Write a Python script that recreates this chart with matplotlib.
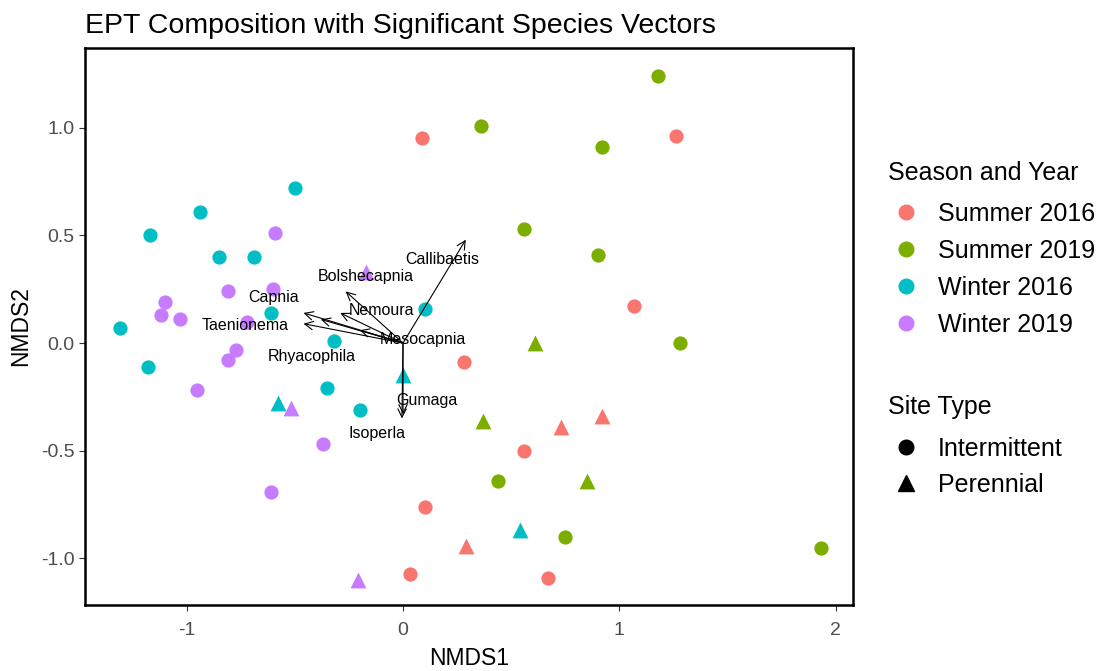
import matplotlib
matplotlib.use('Agg')
import matplotlib.pyplot as plt
from matplotlib.lines import Line2D

plt.rcParams['font.family'] = ['Liberation Sans', 'DejaVu Sans']

# site scores: (NMDS1, NMDS2)
s16_circ_x = [0.09, 1.26, 1.07, 0.28, 0.56, 0.10, 0.03, 0.67]
s16_circ_y = [0.95, 0.96, 0.17, -0.09, -0.50, -0.76, -1.07, -1.09]
s16_tri_x = [0.73, 0.92, 0.29]
s16_tri_y = [-0.39, -0.34, -0.94]

s19_circ_x = [1.18, 0.36, 0.92, 0.56, 0.90, 1.28, 0.44, 0.75, 1.93]
s19_circ_y = [1.24, 1.01, 0.91, 0.53, 0.41, 0.00, -0.64, -0.90, -0.95]
s19_tri_x = [0.61, 0.37, 0.85]
s19_tri_y = [0.00, -0.36, -0.64]

w16_circ_x = [-0.50, -0.94, -1.17, -0.85, -0.69, -0.61, 0.10, -1.31, -0.32, -1.18, -0.35, -0.20]
w16_circ_y = [0.72, 0.61, 0.50, 0.40, 0.40, 0.14, 0.16, 0.07, 0.01, -0.11, -0.21, -0.31]
w16_tri_x = [0.00, -0.58, 0.54]
w16_tri_y = [-0.15, -0.28, -0.87]

w19_circ_x = [-0.59, -0.81, -0.60, -1.10, -1.12, -1.03, -0.72, -0.77, -0.81, -0.95, -0.37, -0.61]
w19_circ_y = [0.51, 0.24, 0.25, 0.19, 0.13, 0.11, 0.10, -0.03, -0.08, -0.22, -0.47, -0.69]
w19_tri_x = [-0.17, -0.52, -0.21]
w19_tri_y = [0.33, -0.30, -1.10]

# species vectors and label positions
species = ['Callibaetis', 'Bolshecapnia', 'Nemoura', 'Capnia', 'Taenionema',
           'Rhyacophila', 'Mesocapnia', 'Gumaga', 'Isoperla']
vec_x = [0.29, -0.265, -0.29, -0.46, -0.46, -0.38, -0.20, 0.0, -0.005]
vec_y = [0.48, 0.24, 0.14, 0.14, 0.09, 0.11, 0.06, -0.33, -0.35]
lab_x = [0.18, -0.17, -0.10, -0.60, -0.73, -0.42, 0.09, 0.11, -0.12]
lab_y = [0.39, 0.31, 0.15, 0.21, 0.08, -0.06, 0.015, -0.265, -0.42]

groups = ['Summer 2016', 'Summer 2019', 'Winter 2016', 'Winter 2019']
colors = ['#F8766D', '#7CAE00', '#00BFC4', '#C77CFF']
site_types = ['Intermittent', 'Perennial']
circ = [(s16_circ_x, s16_circ_y), (s19_circ_x, s19_circ_y),
        (w16_circ_x, w16_circ_y), (w19_circ_x, w19_circ_y)]
tri = [(s16_tri_x, s16_tri_y), (s19_tri_x, s19_tri_y),
       (w16_tri_x, w16_tri_y), (w19_tri_x, w19_tri_y)]

W, H = 1102, 671
fig = plt.figure(figsize=(W / 100, H / 100), dpi=100)
ax = fig.add_axes([85 / W, 1 - 605 / H, 768 / W, 557 / H])

for (cx, cy), (tx, ty), c in zip(circ, tri, colors):
    ax.scatter(cx, cy, s=105, marker='o', color=c, linewidths=0, zorder=2)
    ax.scatter(tx, ty, s=130, marker='^', color=c, linewidths=0, zorder=2)

for vx, vy in zip(vec_x, vec_y):
    ax.annotate('', xy=(vx, vy), xytext=(0, 0),
                arrowprops=dict(arrowstyle='->', color='black', lw=0.8,
                                shrinkA=0, shrinkB=0, mutation_scale=15),
                zorder=3)
for name, lx, ly in zip(species, lab_x, lab_y):
    ax.text(lx, ly, name, fontsize=11.5, ha='center', va='center', zorder=4)

ax.set_xlim(-1.47, 2.08)
ax.set_ylim(-1.216, 1.37)
ax.set_xticks([-1, 0, 1, 2])
ax.set_xticklabels(['-1', '0', '1', '2'])
ax.set_yticks([-1.0, -0.5, 0.0, 0.5, 1.0])
ax.set_yticklabels(['-1.0', '-0.5', '0.0', '0.5', '1.0'])
ax.tick_params(labelsize=14, labelcolor='#4D4D4D', color='#333333', length=4)
ax.tick_params(axis='x', pad=8)
for sp in ax.spines.values():
    sp.set_linewidth(1.8)
    sp.set_color('black')

ax.set_xlabel('NMDS1', fontsize=16.5, labelpad=6)
ax.set_ylabel('NMDS2', fontsize=16.5, labelpad=6)
ax.set_title('EPT Composition with Significant Species Vectors', fontsize=20.5,
             loc='left', pad=11)

# legends, placed in figure pixels
def fy(py):
    return 1 - py / H

fig.text(888 / W, fy(171 + 9), 'Season and Year', fontsize=18, va='baseline')
for i, (g, c) in enumerate(zip(groups, colors)):
    py = 212 + 37 * i
    fig.add_artist(Line2D([906 / W], [fy(py)], transform=fig.transFigure,
                          marker='o', color=c, markersize=10.5, linestyle=''))
    fig.text(938 / W, fy(py + 9), g, fontsize=18, va='baseline')

fig.text(888 / W, fy(405 + 9), 'Site Type', fontsize=18, va='baseline')
for i, (t, m) in enumerate(zip(site_types, ['o', '^'])):
    py = 447 + 36 * i
    fig.add_artist(Line2D([906 / W], [fy(py)], transform=fig.transFigure,
                          marker=m, color='black', markersize=10.5 if m == 'o' else 12,
                          linestyle=''))
    fig.text(938 / W, fy(py + 9), t, fontsize=18, va='baseline')

fig.savefig('out.png', dpi=100)
